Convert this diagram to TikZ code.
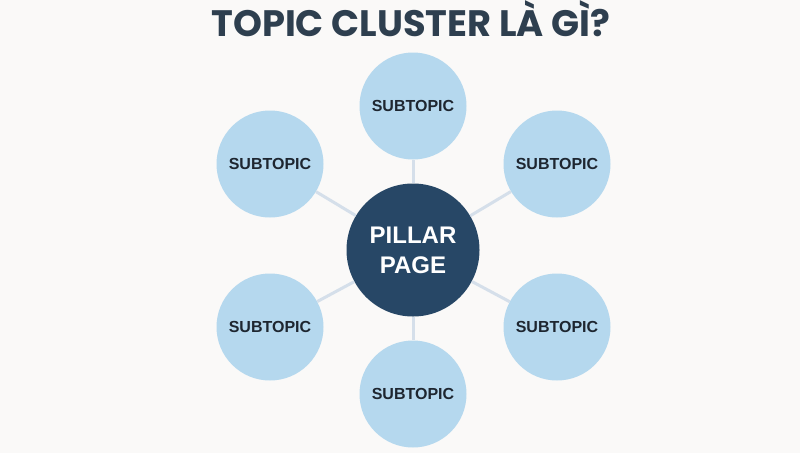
\documentclass[tikz,border=0pt]{standalone}
\usepackage{fontspec}
\setmainfont{Liberation Sans}
\newfontfamily\titlefont{Poppins}
\definecolor{bgcol}{HTML}{FAF9F8}
\definecolor{titlecol}{HTML}{2E3F4F}
\definecolor{subblue}{HTML}{B5D8EE}
\definecolor{subtext}{HTML}{1E2630}
\definecolor{pillarblue}{HTML}{274766}
\definecolor{linkgray}{HTML}{D5DFEA}
\begin{document}
\begin{tikzpicture}[x=1pt,y=-1pt,
  sub/.style={circle,fill=subblue,minimum size=107pt,inner sep=0pt,
    font=\fontsize{16}{18}\selectfont\bfseries,text=subtext},
  pillar/.style={circle,fill=pillarblue,minimum size=133pt,inner sep=0pt,
    font=\fontsize{24}{30}\selectfont\bfseries,text=white,align=center},
  link/.style={draw=linkgray,line width=3pt}]
\fill[bgcol] (0,0) rectangle (800,453);
\useasboundingbox (0,0) rectangle (800,453);
\node[anchor=base,text=titlecol,font=\titlefont\bfseries\fontsize{36.8}{40}\selectfont] (title) at (411,36) {TOPIC CLUSTER LÀ GÌ?};
\node[pillar] (pillar) at (413,250) {PILLAR\\PAGE};
\foreach \n/\x/\y in {1/413/106,2/557/164,3/557/327,4/413/394,5/270/327,6/270/164}
\node[sub] (sub\n) at (\x,\y) {SUBTOPIC};
\foreach \n in {1,...,6}
\draw[link] (pillar) -- (sub\n);
\end{tikzpicture}
\end{document}
